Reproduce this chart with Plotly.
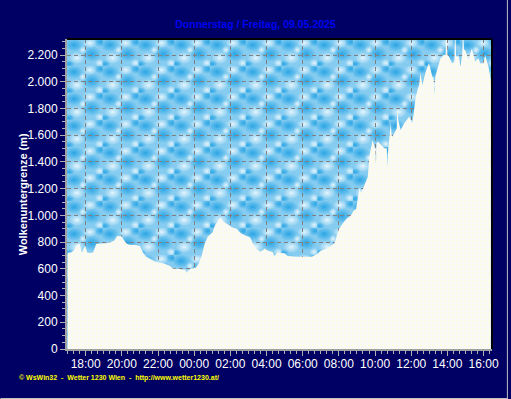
import base64
import plotly.graph_objects as go

# ---------------- data ----------------
times = ["17:00","17:10","17:20","17:30","17:40","17:47","17:52","17:58","18:05","18:15",
         "18:25","18:35","18:50","19:10","19:25","19:35","19:45","20:00","20:05","20:15",
         "20:25","20:45","21:00","21:10","21:20","21:35","21:50","22:05","22:20","22:40",
         "22:50","23:10","23:30","23:35","23:42","23:50","00:05","00:15","00:25","00:35",
         "00:45","01:00","01:10","01:20","01:28","01:35","01:50","02:05","02:20","02:35",
         "02:50","03:05","03:15","03:25","03:40","03:55","04:05","04:20","04:26","04:35",
         "05:00","05:10","05:45","06:30","06:45","07:00","07:20","07:45","07:55","08:00",
         "08:10","08:25","08:40","08:50","08:57","09:03","09:08","09:14","09:25","09:36",
         "09:41","09:47","09:52","09:58","10:01","10:03","10:05","10:09","10:20","10:31",
         "10:39","10:41","10:44","10:47","10:52","10:55","10:58","11:09","11:12","11:14",
         "11:17","11:25","11:37","11:53","12:04","12:15","12:26","12:31","12:37","12:48",
         "12:59","13:10","13:14","13:17","13:20","13:26","13:37","13:48","13:54","13:57",
         "14:00","14:05","14:16","14:23","14:26","14:29","14:38","14:43","14:49","14:52",
         "14:55","14:59","15:10","15:21","15:32","15:43","15:49","16:00","16:05","16:16",
         "16:24"]
cloud_base = [720,722,735,780,790,722,745,772,722,718,
              725,785,790,792,800,812,845,842,822,790,
              780,778,770,722,692,675,655,648,640,622,
              600,598,592,568,592,600,608,640,700,790,
              840,872,930,962,983,958,935,912,900,866,
              850,836,792,752,728,752,735,726,696,720,
              716,696,690,690,708,735,752,790,862,895,
              932,975,1000,1040,1045,1140,1205,1165,1228,1290,
              1440,1514,1564,1514,1500,1390,1540,1552,1527,1502,
              1500,1365,1500,1564,1689,1600,1589,1639,1650,1800,
              1714,1639,1689,1739,1689,1889,1976,2064,1976,2076,
              2139,2039,2030,1901,2040,2088,2176,2201,2200,2420,
              2200,2189,2139,2150,2420,2190,2189,2114,2200,2420,
              2240,2238,2164,2251,2151,2176,2139,2139,2201,2114,
              2014]
title_text = "Donnerstag / Freitag, 09.05.2025"
y_title = "Wolkenuntergrenze (m)"
footer = "© WsWin32  -  Wetter 1230 Wien  -  http://www.wetter1230.at/"
day1 = "2025-05-08"
day2 = "2025-05-09"

def to_dt(t):
    h = int(t[:2])
    d = day1 if h >= 17 else day2
    return f"{d} {t}"

xs = [to_dt(t) for t in times]

# ---------------- cloud texture ----------------
svg = '''<svg xmlns="http://www.w3.org/2000/svg" width="428" height="310" viewBox="0 0 428 310">
<defs>
<radialGradient id="b"><stop offset="0" stop-color="#1ea0e2" stop-opacity="0.9"/><stop offset="0.55" stop-color="#38ace8" stop-opacity="0.55"/><stop offset="1" stop-color="#48b4ea" stop-opacity="0"/></radialGradient>
<radialGradient id="w"><stop offset="0" stop-color="#f4fbff" stop-opacity="0.9"/><stop offset="0.55" stop-color="#e0f4fd" stop-opacity="0.45"/><stop offset="1" stop-color="#ffffff" stop-opacity="0"/></radialGradient>
<pattern id="p" x="0" y="0" width="36" height="27" patternUnits="userSpaceOnUse">
<rect width="36" height="27" fill="#86ccf0"/>
<ellipse cx="7" cy="6" rx="10" ry="7" fill="url(#b)"/>
<ellipse cx="25" cy="15" rx="10" ry="8" fill="url(#b)"/>
<ellipse cx="34" cy="3" rx="7" ry="5" fill="url(#b)"/>
<ellipse cx="23" cy="4" rx="7" ry="5" fill="url(#w)"/>
<ellipse cx="10" cy="19" rx="8" ry="6" fill="url(#w)"/>
<ellipse cx="16" cy="11" rx="4" ry="4" fill="url(#w)"/>
<ellipse cx="2" cy="25" rx="6" ry="4" fill="url(#b)"/>
<ellipse cx="33" cy="24" rx="5" ry="4" fill="url(#w)"/>
</pattern></defs>
<rect width="428" height="310" fill="url(#p)"/></svg>'''
svg_uri = "data:image/svg+xml;base64," + base64.b64encode(svg.encode()).decode()

fig = go.Figure()
fig.add_trace(go.Scatter(
    x=xs, y=cloud_base, mode="lines", line=dict(width=0, color="#f8f8f4"),
    fill="tozeroy", fillcolor="#fafaf2",
    fillpattern=dict(shape=".", fgcolor="#fffbd0", bgcolor="#f9f9f7", size=4, solidity=0.3),
    hoverinfo="skip", showlegend=False))

L, R, T, B = 67, 16, 39, 50
W, H = 511, 399
pw, ph = W - L - R, H - T - B

def px(xp):
    return (xp - L) / pw

def py(yp):
    return (H - B - yp) / ph

fig.update_layout(
    width=W, height=H,
    margin=dict(l=L, r=R, t=T, b=B),
    paper_bgcolor="#000064",
    plot_bgcolor="rgba(0,0,0,0)",
    separators=",.",
    font=dict(family="Liberation Sans, Arial, sans-serif", color="white", size=11),
    title=dict(text=f"<b>{title_text}</b>", x=0.5, xanchor="center", xref="container",
               y=1 - 24 / H, yanchor="middle", yref="container",
               font=dict(size=10.5, color="#0000f0", family="Liberation Sans, Arial, sans-serif")),
    images=[dict(source=svg_uri, xref="paper", yref="paper", x=0, y=1, sizex=1, sizey=1,
                 xanchor="left", yanchor="top", sizing="stretch", layer="below")],
    xaxis=dict(
        type="date",
        range=[f"{day1} 16:58", f"{day2} 16:28"],
        tickformat="%H:%M",
        dtick=7200000, tick0=f"{day1} 18:00",
        ticks="outside", ticklen=5, tickcolor="#b0b0b0", tickwidth=1,
        ticklabelstandoff=-2,
        minor=dict(dtick=1200000, tick0=f"{day1} 18:00", ticks="outside", ticklen=3,
                   tickcolor="#b0b0b0", showgrid=False),
        showgrid=True, gridcolor="#808080", griddash="4px,3px", gridwidth=1,
        showline=True, linecolor="#a0a0a0", linewidth=2,
        tickfont=dict(size=12, color="white"),
        zeroline=False, fixedrange=True,
    ),
    yaxis=dict(
        range=[0, 2320],
        dtick=200, tick0=0, tickformat=",d",
        ticks="outside", ticklen=5, tickcolor="#b0b0b0", tickwidth=1,
        minor=dict(dtick=50, ticks="outside", ticklen=3, tickcolor="#b0b0b0", showgrid=False),
        showgrid=True, gridcolor="#808080", griddash="4px,3px", gridwidth=1,
        showline=True, linecolor="#a0a0a0", linewidth=2,
        tickfont=dict(size=12, color="white"),
        zeroline=False, fixedrange=True,
    ),
    annotations=[
        dict(text=f"<b>{y_title}</b>", xref="paper", yref="paper", x=px(23), y=0.5,
             textangle=-90, showarrow=False, xanchor="center", yanchor="middle",
             font=dict(size=11, color="white")),
        dict(text=f"<b>{footer}</b>", xref="paper", yref="paper", x=px(17), y=py(378),
             showarrow=False, xanchor="left", yanchor="middle",
             font=dict(size=7, color="#ffff00", family="Liberation Sans, Arial, sans-serif")),
    ],
    shapes=[
        dict(type="line", xref="paper", yref="paper", x0=0, x1=1, y0=1, y1=1,
             line=dict(color="black", width=2)),
        dict(type="line", xref="paper", yref="paper", x0=1, x1=1, y0=0, y1=1,
             line=dict(color="black", width=2)),
        dict(type="line", xref="paper", yref="paper", x0=px(0), x1=px(511), y0=py(398.5), y1=py(398.5),
             line=dict(color="#c0c0c0", width=1)),
        dict(type="line", xref="paper", yref="paper", x0=px(510.5), x1=px(510.5), y0=py(0), y1=py(399),
             line=dict(color="#c0c0c0", width=1)),
    ],
)

fig.write_html("out.html", config={"displayModeBar": False},
               post_script="document.body.style.margin='0';document.body.style.overflow='hidden';")
